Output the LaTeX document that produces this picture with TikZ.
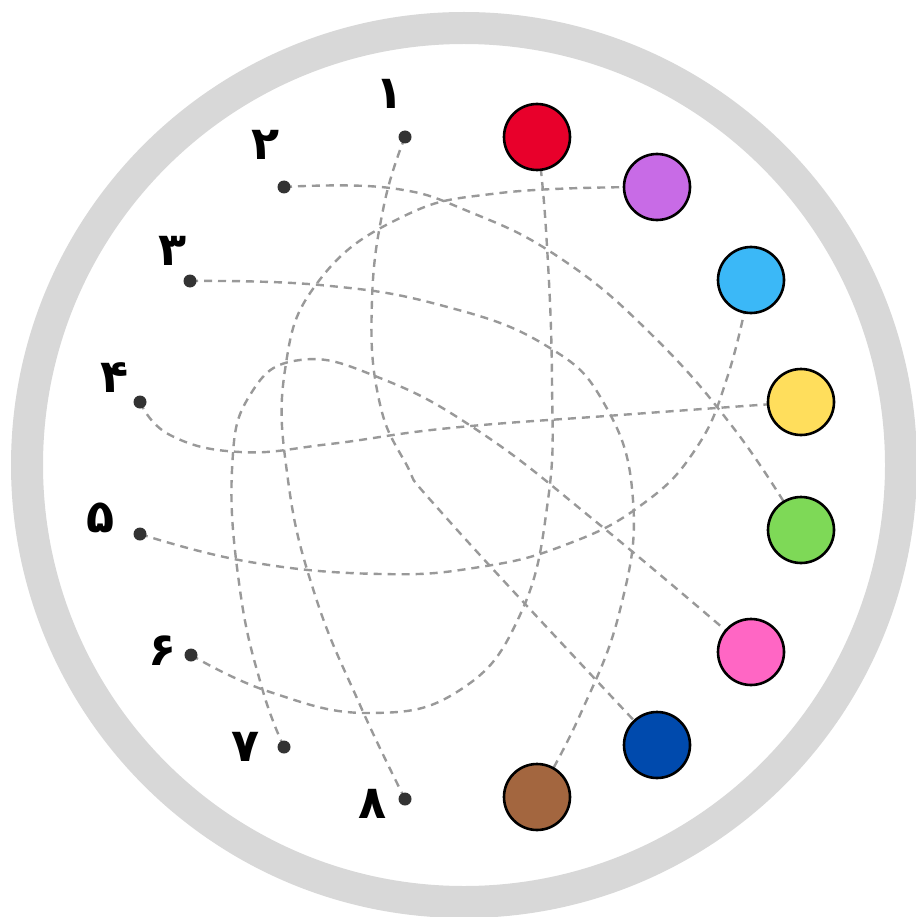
\documentclass[tikz,border=0pt]{standalone}
\usepackage{fontspec}
\newfontfamily\fa[Script=Arabic]{DejaVu Sans}
\usetikzlibrary{backgrounds}
\pgfdeclarelayer{ringlayer}
\pgfdeclarelayer{linelayer}
\pgfsetlayers{ringlayer,linelayer,main}
\definecolor{ringgray}{HTML}{D8D8D8}
\definecolor{dashgray}{HTML}{999999}
\definecolor{dotgray}{HTML}{333333}
\definecolor{cred}{HTML}{E8002B}
\definecolor{cpurple}{HTML}{C86BE6}
\definecolor{cblue}{HTML}{3BB8F7}
\definecolor{cyellow}{HTML}{FFDE5C}
\definecolor{cgreen}{HTML}{7ED957}
\definecolor{cpink}{HTML}{FF66C4}
\definecolor{cnavy}{HTML}{004AAD}
\definecolor{cbrown}{HTML}{A3663F}
\tikzset{
  ball/.style={circle, draw=black, line width=2.6pt, minimum size=66pt, inner sep=0pt},
  pin/.style={circle, fill=dotgray, minimum size=13pt, inner sep=0pt},
  numlabel/.style={font=\fa\bfseries\fontsize{46}{46}\selectfont, inner sep=0pt, text=black},
  link/.style={dashgray, line width=2.4pt, dash pattern=on 8pt off 6pt, smooth, tension=0.75}
}
\begin{document}
\begin{tikzpicture}[x=1pt,y=-1pt]
\useasboundingbox (0,0) rectangle (915,917);
\begin{pgfonlayer}{ringlayer}
\fill[white] (0,0) rectangle (915,917);
\fill[ringgray, even odd rule] (464,465) circle[radius=453] (464,465) circle[radius=421];
\end{pgfonlayer}

% colour balls
\node[ball, fill=cred]    (red)    at (537,137) {};
\node[ball, fill=cpurple] (purple) at (657,187) {};
\node[ball, fill=cblue]   (blue)   at (751,280) {};
\node[ball, fill=cyellow] (yellow) at (801,402) {};
\node[ball, fill=cgreen]  (green)  at (801,530) {};
\node[ball, fill=cpink]   (pink)   at (751,652) {};
\node[ball, fill=cnavy]   (navy)   at (657,745) {};
\node[ball, fill=cbrown]  (brown)  at (537,797) {};

% dots
\node[pin] (d1) at (405,137) {};
\node[pin] (d2) at (284,187) {};
\node[pin] (d3) at (190,281) {};
\node[pin] (d4) at (140,402) {};
\node[pin] (d5) at (140,534) {};
\node[pin] (d6) at (191,655) {};
\node[pin] (d7) at (284,747) {};
\node[pin] (d8) at (405,799) {};

% labels
\node[numlabel] (l1) at (390,94)  {۱};
\node[numlabel] (l2) at (266,145) {۲};
\node[numlabel] (l3) at (173,251) {۳};
\node[numlabel] (l4) at (115,378) {۴};
\node[numlabel] (l5) at (101,518) {۵};
\node[numlabel] (l6) at (163,651) {۶};
\node[numlabel] (l7) at (246,747) {۷};
\node[numlabel] (l8) at (373,804) {۸};

\begin{pgfonlayer}{linelayer}
\draw[link] plot coordinates {(d1.center) (384,205) (372,300) (378,395) (405,462) (450,522) (navy.center)};
\draw[link] plot coordinates {(d2.center) (390,188) (470,212) (560,258) (650,333) (735,430) (green.center)};
\draw[link] plot coordinates {(d3.center) (320,285) (440,305) (545,345) (605,405) (633,500) (620,610) (580,715) (brown.center)};
\draw[link] plot coordinates {(d4.center) (170,435) (240,452) (330,444) (450,428) (620,415) (yellow.center)};
\draw[link] plot coordinates {(d5.center) (250,562) (380,574) (480,567) (565,545) (640,506) (695,450) (728,375) (blue.center)};
\draw[link] plot coordinates {(d6.center) (270,692) (370,713) (460,690) (520,615) (548,500) (552,380) (546,230) (red.center)};
\draw[link] plot coordinates {(d7.center) (262,688) (240,590) (232,470) (250,395) (300,360) (380,378) (480,432) (600,525) (pink.center)};
\draw[link] plot coordinates {(d8.center) (360,705) (315,595) (288,480) (285,370) (318,282) (400,218) (500,193) (purple.center)};
\end{pgfonlayer}
\end{tikzpicture}
\end{document}
